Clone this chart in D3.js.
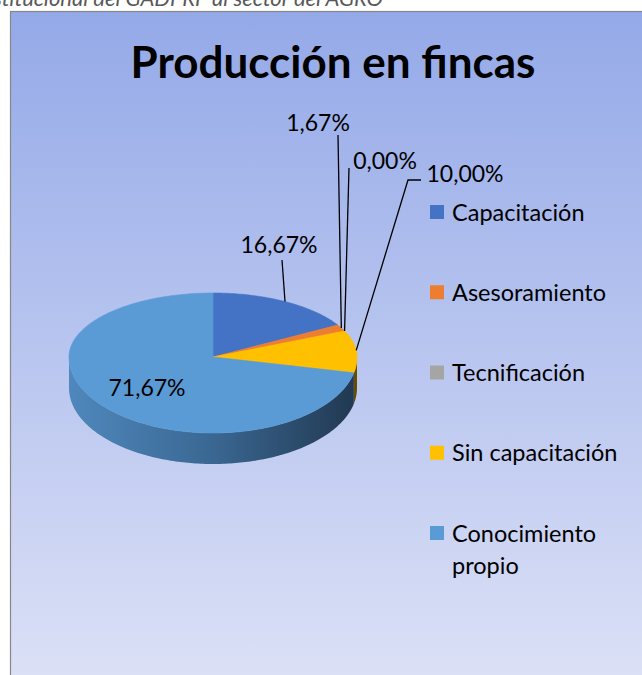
<!DOCTYPE html>
<html>
<head>
<meta charset="utf-8">
<script src="https://cdn.jsdelivr.net/npm/d3@7"></script>
<style>
  html, body { margin: 0; padding: 0; background: #ffffff; overflow: hidden; }
  svg { display: block; }
</style>
</head>
<body>
<svg id="chart" width="642" height="675"></svg>
<script>
// Data
const categories = ["Capacitación", "Asesoramiento", "Tecnificación", "Sin capacitación", "Conocimiento propio"];
const shares = [16.67, 1.67, 0.00, 10.00, 71.67];
const sliceColors = ["#4472C4", "#ED7D31", "#A5A5A5", "#FFC000", "#5B9BD5"];
const titleText = "Producción en fincas";
const captionText = "institucional del GADPRP al sector del AGRO";

// Layout
const W = 642, H = 675;
const FONT = "Lato, 'Noto Sans', sans-serif";
const pieGeom = { cx: 213, cy: 357, rx: 144, ryBack: 64, ryFront: 76, depth: 31 };
// data-label centres and leader attach points (null = label sits on the slice)
const labelLayout = [
  { x: 279, y: 244, attach: [[282, 260]] },
  { x: 318, y: 122, attach: [[338, 135]] },
  { x: 385, y: 160, attach: [[349, 168]] },
  { x: 465, y: 173, attach: [[421, 180], [408, 180]] },
  { x: 147, y: 387, attach: null }
];

const svg = d3.select("#chart");
const defs = svg.append("defs");

// chart area background
const bg = defs.append("linearGradient").attr("id", "bgGrad")
  .attr("gradientUnits", "userSpaceOnUse").attr("x1", 0).attr("y1", 11).attr("x2", 0).attr("y2", H);
bg.append("stop").attr("offset", 0).attr("stop-color", "#94a9e8");
bg.append("stop").attr("offset", 1).attr("stop-color", "#dbe0f6");

const wall = defs.append("linearGradient").attr("id", "wallGrad")
  .attr("gradientUnits", "userSpaceOnUse")
  .attr("x1", pieGeom.cx - pieGeom.rx).attr("y1", 0)
  .attr("x2", pieGeom.cx + pieGeom.rx).attr("y2", 0);
wall.append("stop").attr("offset", 0).attr("stop-color", "#4f88bd");
wall.append("stop").attr("offset", 0.5).attr("stop-color", "#3a6792");
wall.append("stop").attr("offset", 1).attr("stop-color", "#213850");

// caption above the chart frame (runs off the top of the page)
svg.append("text")
  .attr("x", 383).attr("y", 6)
  .attr("text-anchor", "end")
  .attr("font-family", FONT).attr("font-style", "italic")
  .attr("font-size", 22).attr("fill", "#595959")
  .text(captionText);

svg.append("rect")
  .attr("x", 10.5).attr("y", 11.5).attr("width", 700).attr("height", 700)
  .attr("fill", "url(#bgGrad)").attr("stroke", "#878787").attr("stroke-width", 1.2);

// title
svg.append("text")
  .attr("x", 333).attr("y", 78)
  .attr("text-anchor", "middle")
  .attr("font-family", FONT).attr("font-weight", 700)
  .attr("font-size", 44).attr("fill", "#000")
  .text(titleText);

// 3D pie: angles from d3.pie, projected onto a tilted ellipse
const pie = d3.pie().sort(null).value(d => d);
const arcs = pie(shares);

function proj(a, dy = 0) {
  const c = Math.cos(a), s = Math.sin(a);
  const ry = c >= 0 ? pieGeom.ryBack : pieGeom.ryFront;
  return [pieGeom.cx + pieGeom.rx * s, pieGeom.cy - ry * c + dy];
}
function rimPoints(a0, a1, dy = 0) {
  const n = Math.max(2, Math.ceil(Math.abs(a1 - a0) / (Math.PI / 180)));
  return d3.range(n + 1).map(i => proj(a0 + (a1 - a0) * i / n, dy));
}
const line = d3.line();

// side walls (front half only: PI/2 .. 3PI/2)
const wallG = svg.append("g");
arcs.forEach((d, i) => {
  const s0 = Math.max(d.startAngle, Math.PI / 2);
  const s1 = Math.min(d.endAngle, 3 * Math.PI / 2);
  if (s1 <= s0) return;
  const top = rimPoints(s0, s1, 0);
  const bottom = rimPoints(s1, s0, pieGeom.depth);
  const fill = i === 4 ? "url(#wallGrad)" : d3.color(sliceColors[i]).darker(2.6).formatHex();
  wallG.append("path")
    .attr("d", line(top.concat(bottom)) + "Z")
    .attr("fill", fill);
});

// top faces
const topG = svg.append("g");
arcs.forEach((d, i) => {
  if (d.endAngle - d.startAngle <= 0) return;
  const pts = [[pieGeom.cx, pieGeom.cy]].concat(rimPoints(d.startAngle, d.endAngle));
  topG.append("path")
    .attr("d", line(pts) + "Z")
    .attr("fill", sliceColors[i])
    .attr("stroke", sliceColors[i]).attr("stroke-width", 0.6);
});

// data labels and leader lines
const fmt = v => d3.format(".2f")(v).replace(".", ",") + "%";
const labelG = svg.append("g");
arcs.forEach((d, i) => {
  const L = labelLayout[i];
  if (L.attach) {
    const mid = (d.startAngle + d.endAngle) / 2;
    const rim = proj(mid);
    labelG.append("path")
      .attr("d", line(L.attach.concat([rim])))
      .attr("fill", "none").attr("stroke", "#000").attr("stroke-width", 1.3);
  }
  labelG.append("text")
    .attr("x", L.x).attr("y", L.y + 8.5)
    .attr("text-anchor", "middle")
    .attr("font-family", FONT).attr("font-size", 23).attr("fill", "#000")
    .text(fmt(shares[i]));
});

// legend
const legendY = d3.scaleLinear().domain([0, 4]).range([212, 533]);
const legG = svg.append("g");
categories.forEach((c, i) => {
  const y = legendY(i);
  legG.append("rect")
    .attr("x", 430).attr("y", y - 7).attr("width", 14).attr("height", 14)
    .attr("fill", sliceColors[i]);
  const words = c === "Conocimiento propio" ? ["Conocimiento", "propio"] : [c];
  words.forEach((w, k) => {
    legG.append("text")
      .attr("x", 452).attr("y", y + 8.5 + k * 32)
      .attr("font-family", FONT).attr("font-size", 23.5).attr("fill", "#000")
      .text(w);
  });
});
</script>
</body>
</html>
